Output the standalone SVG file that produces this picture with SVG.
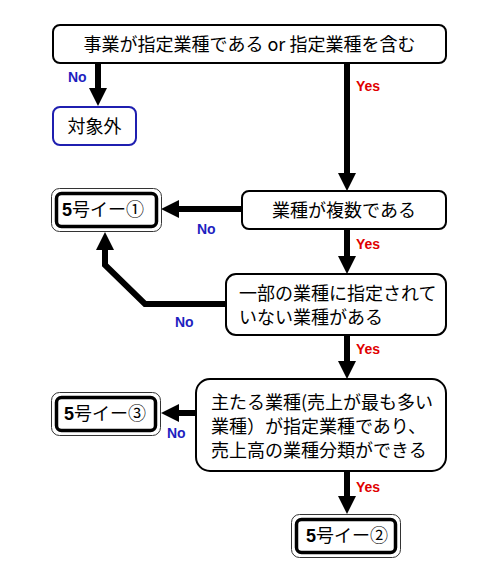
<svg xmlns="http://www.w3.org/2000/svg" width="500" height="580" viewBox="0 0 500 580">
<style>
.box{fill:#fff;stroke:#000;stroke-width:2}
.blue{fill:#fff;stroke:#1f1fb0;stroke-width:2}
.outer{fill:#fff;stroke:#333;stroke-width:1}
.inner{fill:#fff;stroke:#000;stroke-width:3.5}
.t{font-family:"Noto Sans CJK JP","Noto Sans CJK SC",sans-serif;font-size:18px;fill:#000}
.c{text-anchor:middle}
.b{font-family:"Liberation Sans",Arial,sans-serif;font-weight:bold}
.yes{font-family:"Liberation Sans",Arial,sans-serif;font-weight:bold;font-size:14px;fill:#e00000}
.no{font-family:"Liberation Sans",Arial,sans-serif;font-weight:bold;font-size:14px;fill:#1f1fc0}
.ln{fill:none;stroke:#000;stroke-width:6;marker-end:url(#ah)}
</style>
<defs>
<marker id="ah" markerUnits="userSpaceOnUse" markerWidth="18" markerHeight="18" viewBox="0 0 18 18" refX="0" refY="9" orient="auto" overflow="visible">
<path d="M0,0 L18,9 L0,18 z" fill="#000"/>
</marker>
</defs>
<rect width="500" height="580" fill="#fff"/>
<g id="connectors">
<line class="ln" x1="98" y1="63" x2="98" y2="88"/>
<line class="ln" x1="347" y1="63" x2="347" y2="173"/>
<line class="ln" x1="242" y1="209" x2="179" y2="209"/>
<line class="ln" x1="347" y1="229" x2="347" y2="256"/>
<polyline class="ln" points="226,304 145,304 105,265 105,250"/>
<line class="ln" x1="347" y1="335" x2="347" y2="361"/>
<line class="ln" x1="196" y1="413" x2="179" y2="413"/>
<line class="ln" x1="347" y1="471" x2="347" y2="496"/>
<text class="no" x="68" y="82">No</text>
<text class="yes" x="356" y="91">Yes</text>
<text class="no" x="197" y="234">No</text>
<text class="yes" x="356" y="249">Yes</text>
<text class="no" x="175" y="327">No</text>
<text class="yes" x="356" y="354">Yes</text>
<text class="no" x="167" y="438">No</text>
<text class="yes" x="356" y="492">Yes</text>
</g>
<g id="n-start">
<rect class="box" x="53" y="25" width="393" height="38" rx="7"/>
<text class="t c" x="249.5" y="51">事業が指定業種である or 指定業種を含む</text>
</g>
<g id="n-out">
<rect class="blue" x="53" y="107" width="83" height="38" rx="7"/>
<text class="t c" x="94.5" y="133">対象外</text>
</g>
<g id="n-multi">
<rect class="box" x="242" y="191" width="204" height="38" rx="7"/>
<text class="t c" x="344" y="217">業種が複数である</text>
</g>
<g id="n-part">
<rect class="box" x="226" y="274" width="220" height="61" rx="10"/>
<text class="t" x="239" y="300">一部の業種に指定されて</text>
<text class="t" x="239" y="324">いない業種がある</text>
</g>
<g id="n-main">
<rect class="box" x="196" y="379" width="250" height="92" rx="14"/>
<text class="t" x="211" y="409">主たる業種(売上が最も多い</text>
<text class="t" x="211" y="433">業種）が指定業種であり、</text>
<text class="t" x="211" y="457">売上高の業種分類ができる</text>
</g>
<g id="n-r1">
<rect class="outer" x="51.5" y="188.5" width="110" height="43" rx="8"/>
<rect class="inner" x="56.5" y="193.5" width="100" height="33" rx="5"/>
<text class="t c" x="103" y="216"><tspan class="b">5</tspan>号イー①</text>
</g>
<g id="n-r3">
<rect class="outer" x="51.5" y="392.5" width="109" height="43" rx="8"/>
<rect class="inner" x="56.5" y="397.5" width="99" height="33" rx="5"/>
<text class="t c" x="105" y="420"><tspan class="b">5</tspan>号イー③</text>
</g>
<g id="n-r2">
<rect class="outer" x="291.5" y="514.5" width="109" height="43" rx="8"/>
<rect class="inner" x="296.5" y="519.5" width="99" height="33" rx="5"/>
<text class="t c" x="347" y="542"><tspan class="b">5</tspan>号イー②</text>
</g>
</svg>
